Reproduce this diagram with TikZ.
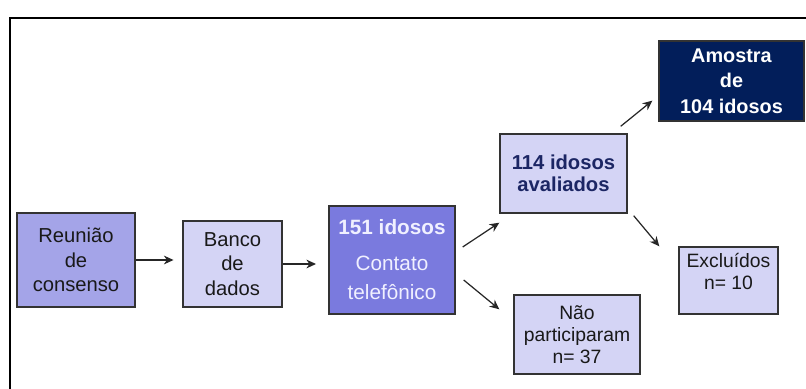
\documentclass[tikz,border=0pt]{standalone}
\usepackage{fontspec}
\setmainfont{Liberation Sans}
\usetikzlibrary{arrows.meta}
\definecolor{lilas}{RGB}{164,164,232}
\definecolor{lilasclaro}{RGB}{212,212,245}
\definecolor{roxo}{RGB}{122,122,222}
\definecolor{marinho}{RGB}{2,30,90}
\definecolor{azultexto}{RGB}{28,38,100}

\begin{document}
\begin{tikzpicture}[x=0.02cm,y=-0.02cm,
  caixa/.style={draw=black!80, line width=0.8pt, align=center, inner sep=0pt, text=black!90,
    font=\fontsize{11.5}{14}\selectfont},
  pequena/.style={caixa, fill=lilasclaro, font=\fontsize{11}{12.6}\selectfont},
  seta/.style={-{Stealth[length=5.5pt,width=5pt]}, line width=0.7pt, black!85}]

\useasboundingbox (0,0) rectangle (806,389);
\draw[line width=1.2pt] (10,389) |- (806,18);

\node[caixa, fill=lilas, minimum width=2.36cm, minimum height=1.88cm] (reuniao) at (76,260) {Reunião\\de\\consenso};
\node[caixa, fill=lilasclaro, minimum width=1.98cm, minimum height=1.72cm] (banco) at (232.5,264) {Banco\\de\\dados};
\node[caixa, fill=roxo, text=white!94!blue, minimum width=2.52cm, minimum height=2.16cm,
  font=\fontsize{11.8}{17}\selectfont] (contato) at (392,260) {\textbf{151 idosos}\\[3pt]Contato\\telefônico};
\node[caixa, fill=lilasclaro, text=azultexto, minimum width=2.54cm, minimum height=1.58cm,
  font=\bfseries\fontsize{11.5}{12.6}\selectfont] (avaliados) at (563.5,173.5) {114 idosos\\avaliados};
\node[caixa, fill=marinho, text=white, minimum width=2.9cm, minimum height=1.6cm,
  font=\bfseries\fontsize{11.3}{14.5}\selectfont] (amostra) at (731.5,81) {Amostra\\de\\104 idosos};
\node[pequena, minimum width=1.98cm, minimum height=1.34cm, text depth=10pt] (excluidos) at (728.5,280.5) {Excluídos\\n= 10};
\node[pequena, minimum width=2.52cm, minimum height=1.58cm] (nao) at (577,334.5) {Não\\participaram\\n= 37};

\draw[seta] (reuniao.east) -- ([xshift=-5]reuniao.east -| banco.west);
\draw[seta] (banco.east) -- ([xshift=-7]banco.east -| contato.west);
\draw[seta] ([shift={(7,-13)}]contato.east) -- ([shift={(0,9)}]avaliados.south west);
\draw[seta] ([shift={(8,20)}]contato.east) -- ([shift={(-14,15)}]nao.north west);
\draw[seta] ([shift={(-7,-7)}]avaliados.north east) -- ([shift={(-6,-21)}]amostra.south west);
\draw[seta] ([shift={(6,2)}]avaliados.south east) -- ([shift={(-19,0)}]excluidos.north west);
\end{tikzpicture}
\end{document}
